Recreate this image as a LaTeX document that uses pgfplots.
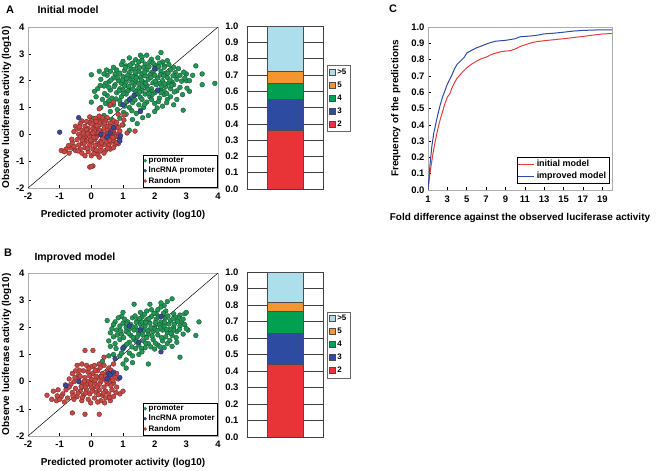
\documentclass[border=0pt]{standalone}
\usepackage{pgfplots}
\pgfplotsset{compat=1.18}
\usepackage{fontspec}
\setmainfont{Liberation Sans}
\definecolor{pgreen}{RGB}{35,150,85}
\definecolor{pgreenD}{RGB}{20,85,50}
\definecolor{pred}{RGB}{200,72,68}
\definecolor{predD}{RGB}{115,40,40}
\definecolor{pblue}{RGB}{60,72,150}
\definecolor{pblueD}{RGB}{35,40,95}
\definecolor{bA}{RGB}{232,52,55}
\definecolor{bB}{RGB}{45,75,160}
\definecolor{bC}{RGB}{0,160,80}
\definecolor{bD}{RGB}{245,150,45}
\definecolor{bE}{RGB}{172,222,235}
\definecolor{cred}{RGB}{228,60,60}
\definecolor{cblue}{RGB}{45,75,160}
\pgfplotsset{
 base/.style={scale only axis, /pgf/number format/assume math mode=true,
   tick label style={font=\bfseries\fontsize{9.5}{10}\selectfont},
   label style={font=\bfseries\fontsize{10}{11}\selectfont},
   axis line style={gray!65, line width=0.9bp},
   tick style={black, line width=0.5bp}, major tick length=2.5bp},
 scat/.style={base, width=190bp, xmin=-2,xmax=4,ymin=-2,ymax=4,
   xtick={-2,...,4}, ytick={-2,...,4}, xtick pos=bottom, ytick pos=left,
   xlabel={Predicted promoter activity (log10)},
   ylabel={Observe luciferase activity (log10)}, xlabel shift=4bp, ylabel shift=-2bp,
   xticklabel style={yshift=-1.5bp},
   legend style={at={(0.997,0.004)},anchor=south east,
     font=\bfseries\fontsize{8}{9}\selectfont, draw=black, line width=0.5bp,
     inner sep=0.5bp, row sep=-1bp, legend cell align=left}},
 gr/.style={only marks, mark=*, mark size=2.4bp, mark options={fill=pgreen, draw=pgreenD, line width=0.35bp}},
 rd/.style={only marks, mark=*, mark size=2.4bp, mark options={fill=pred, draw=predD, line width=0.35bp}},
 bl/.style={only marks, mark=*, mark size=2.4bp, mark options={fill=pblue, draw=pblueD, line width=0.35bp}},
 barax/.style={base, width=76bp, xmin=-1, xmax=1, ymin=0, ymax=1,
   ytick={0,0.1,0.2,0.3,0.4,0.5,0.6,0.7,0.8,0.9,1}, xtick=\empty,
   ybar stacked, bar width=36bp, ymajorgrids, grid style={black!75, line width=0.5bp},
   major tick length=0pt, axis line style={black!75, line width=0.5bp},
   yticklabel style={xshift=-5bp, /pgf/number format/.cd, fixed, fixed zerofill, precision=1},
   reverse legend,
   legend image code/.code={\draw[#1] (0bp,-2.6bp) rectangle (6bp,3.4bp);},
   legend style={at={(1.053,0.76)}, anchor=north west, draw=black!60, line width=0.5bp,
     font=\bfseries\fontsize{8}{9}\selectfont, row sep=2bp, inner sep=1.5bp, legend cell align=left}},
}
\begin{document}
\begin{tikzpicture}
\useasboundingbox (0,0) rectangle (657bp,471bp);
\node[font=\bfseries\fontsize{11}{12}\selectfont] at (10bp,461bp) {A};
\node[anchor=west,font=\bfseries\fontsize{10.5}{12}\selectfont] at (34bp,461bp) {Initial model};
\node[font=\bfseries\fontsize{11}{12}\selectfont] at (8bp,218bp) {B};
\node[anchor=west,font=\bfseries\fontsize{10.5}{12}\selectfont] at (31bp,213bp) {Improved model};
\node[font=\bfseries\fontsize{11}{12}\selectfont] at (393bp,462bp) {C};

% ---------------- Panel A scatter
\begin{axis}[scat, at={(28bp,283bp)}, anchor=south west, height=161bp]
\addplot[gr, forget plot] coordinates {
(1.2,2.85)(1.55,2.95)(1.6,2.88)(2.2,3.05)(2.1,2.85)(1.9,2.8)(1.4,2.78)(2.25,2.7)
(0.95,2.6)(1.1,2.55)(1.3,2.65)(1.5,2.7)(1.7,2.62)(1.85,2.7)(2.0,2.58)(2.15,2.65)(2.3,2.55)(2.45,2.6)(1.0,2.72)(1.65,2.5)(1.45,2.55)(2.6,2.5)(3.3,2.55)(0.7,2.5)(1.25,2.45)
(0.0,2.22)(0.5,2.2)(0.6,2.35)(0.8,2.4)(0.9,2.28)(1.05,2.38)(1.2,2.3)(1.35,2.42)(1.5,2.35)(1.6,2.25)(1.75,2.4)(1.9,2.3)(2.05,2.45)(2.2,2.35)(2.35,2.28)(2.5,2.4)(2.65,2.3)(2.8,2.2)(3.0,2.25)(3.2,2.2)(3.5,2.25)(2.3,2.5)(1.15,2.2)(0.75,2.25)(1.4,2.2)(1.85,2.22)(2.75,2.45)(0.4,2.25)
(0.3,2.05)(0.55,1.95)(0.7,2.1)(0.85,2.0)(1.0,2.15)(1.1,1.95)(1.25,2.05)(1.4,1.98)(1.55,2.12)(1.65,1.95)(1.8,2.05)(1.95,1.92)(2.1,2.1)(2.25,2.0)(2.4,2.12)(2.55,1.95)(2.7,2.05)(2.85,1.98)(3.0,2.0)(3.9,1.9)(3.5,1.85)(2.95,2.1)(0.45,1.9)(1.3,2.15)(1.7,2.18)(2.0,2.2)(2.15,1.9)(0.95,1.9)(1.5,1.9)(2.45,1.92)(2.65,2.18)
(0.2,1.7)(0.4,1.8)(0.6,1.65)(0.75,1.85)(0.9,1.7)(1.05,1.8)(1.2,1.68)(1.35,1.85)(1.5,1.72)(1.6,1.62)(1.75,1.8)(1.9,1.7)(2.05,1.85)(2.2,1.65)(2.35,1.78)(2.5,1.7)(2.6,1.85)(2.8,1.75)(3.1,1.6)(0.1,1.6)(1.15,1.62)(1.4,1.6)(1.85,1.6)(2.3,1.6)(0.55,1.75)(2.7,1.62)(1.0,1.65)
(0.15,1.4)(0.5,1.45)(0.65,1.35)(0.8,1.55)(0.95,1.4)(1.1,1.5)(1.25,1.35)(1.4,1.48)(1.55,1.38)(1.7,1.5)(1.85,1.4)(2.0,1.55)(2.15,1.35)(2.3,1.48)(2.5,1.4)(2.7,1.3)(2.2,1.55)(0.35,1.3)(1.6,1.3)(1.9,1.3)(2.4,1.3)
(0.0,1.2)(0.3,1.0)(0.45,1.15)(0.7,1.1)(0.9,1.25)(1.05,1.05)(1.3,1.18)(1.5,1.1)(1.75,1.2)(2.0,1.15)(2.25,1.05)(2.6,1.1)(1.2,1.0)(0.55,1.25)(1.65,1.0)
(0.4,0.7)(0.6,0.85)(0.9,0.6)(1.1,0.75)(1.3,0.55)(1.55,0.9)(1.8,0.7)(2.0,0.85)(2.9,0.9)(0.8,0.3)(1.0,0.35)(1.2,0.15)(0.65,0.55)(1.45,0.4)(0.05,0.6)
(0.82,2.12)(0.98,2.02)(1.12,2.08)(1.28,1.92)(1.42,2.1)(1.58,2.02)(1.72,1.9)(1.88,2.12)(2.02,1.98)(2.18,2.22)(2.32,1.88)(2.48,2.02)(0.88,1.62)(1.02,1.52)(1.18,1.78)(1.32,1.68)(1.48,1.52)(1.62,1.78)(1.78,1.68)(1.92,1.48)(2.08,1.62)(2.22,1.78)(2.38,1.52)(2.52,1.82)(0.72,1.78)(0.62,2.02)(1.08,2.48)(1.22,2.58)(1.38,2.32)(1.52,2.48)(1.68,2.32)(1.82,2.52)(1.98,2.38)(2.12,2.52)(2.28,2.18)(2.42,2.28)(2.58,2.18)(0.78,1.32)(0.92,1.12)(1.12,1.22)(1.38,1.28)(1.52,1.58)(1.68,1.12)(1.82,1.52)(2.12,1.22)(2.38,1.18)(0.42,1.52)(0.28,1.82)(0.58,1.08)(0.82,0.92)(1.02,0.82)(1.28,0.88)(1.42,0.78)(1.62,0.62)(2.08,0.98)(2.62,1.58)(2.88,1.48)(3.02,1.72)(2.92,2.32)(3.1,2.0)(0.48,2.4)(0.25,2.35)(1.95,2.65)(1.6,2.75)(1.75,2.95)(2.4,2.75)
};
\addplot[rd, forget plot] coordinates {
(-0.05,0.65)(0.15,0.6)(0.3,0.55)(0.5,0.62)(0.7,0.5)(0.45,0.5)(-0.3,0.5)(0.0,0.5)(0.25,0.68)
(-0.5,0.3)(-0.35,0.4)(-0.2,0.3)(-0.05,0.42)(0.1,0.35)(0.2,0.25)(0.35,0.38)(0.5,0.3)(0.6,0.42)(0.75,0.35)(0.85,0.25)(-0.1,0.22)(0.05,0.2)(0.4,0.2)(0.65,0.2)(-0.45,0.2)(0.25,0.45)(0.8,0.45)
(-0.55,0.1)(-0.4,0.0)(-0.3,0.15)(-0.2,-0.05)(-0.1,0.1)(0.0,0.0)(0.1,0.12)(0.2,-0.02)(0.3,0.1)(0.4,0.0)(0.5,0.15)(0.6,-0.05)(0.7,0.08)(0.8,0.0)(0.9,0.12)(-0.25,0.05)(0.15,-0.08)(0.35,-0.1)(0.55,0.05)(-0.05,-0.1)(0.25,0.15)(0.45,-0.05)(0.65,0.12)(-0.35,-0.1)(0.75,-0.08)(0.05,0.05)(-0.15,0.18)(0.85,-0.1)
(-0.6,-0.3)(-0.45,-0.2)(-0.3,-0.35)(-0.15,-0.25)(0.0,-0.3)(0.1,-0.2)(0.2,-0.35)(0.3,-0.25)(0.4,-0.38)(0.5,-0.2)(0.6,-0.3)(0.7,-0.22)(0.85,-0.35)(-0.05,-0.4)(0.15,-0.12)(0.35,-0.15)(-0.25,-0.15)(0.55,-0.4)(0.25,-0.4)(-0.4,-0.4)(0.75,-0.38)
(-0.8,-0.55)(-0.65,-0.5)(-0.5,-0.6)(-0.35,-0.55)(-0.2,-0.5)(-0.1,-0.65)(0.05,-0.55)(0.15,-0.6)(0.3,-0.5)(0.45,-0.6)(0.6,-0.55)(0.4,-0.7)(-0.3,-0.7)(0.2,-0.75)(-0.55,-0.45)(0.7,-0.5)
(-0.95,-0.6)(-0.85,-0.65)(-0.7,-0.7)(0.0,-0.8)(0.25,-0.85)(-0.2,-0.8)(-0.05,-1.22)(0.05,-1.18)(0.0,-1.2)
(0.7,1.2)(0.6,1.1)(0.85,0.75)(1.03,0.72)(1.03,0.53)(0.97,0.35)(1.13,0.05)(1.38,0.12)(0.25,0.95)
(-0.12,0.02)(0.08,-0.12)(0.22,0.05)(0.38,-0.02)(0.52,-0.12)(0.62,0.28)(0.18,0.32)(-0.22,-0.32)(-0.02,-0.22)(0.12,-0.42)(0.32,-0.32)(0.48,-0.28)(0.68,-0.12)(-0.38,0.28)(-0.28,-0.22)(0.02,0.38)(0.42,0.42)(0.58,-0.22)(-0.12,-0.52)(0.08,-0.72)(0.28,-0.62)(0.52,-0.52)(-0.42,-0.62)(-0.62,-0.18)(-0.72,-0.42)(0.35,0.62)(0.15,0.48)(-0.15,0.48)(0.72,0.2)(0.8,-0.3)
};
\addplot[bl, forget plot] coordinates {
(-1.0,0.08)(-0.4,0.62)(0.9,-0.15)(0.9,-0.25)(0.92,-0.05)(0.6,0.05)(0.3,0.0)(1.0,1.1)(1.35,1.45)(1.55,0.85)(2.0,2.45)(2.1,1.65)(1.2,1.3)(0.7,0.25)(0.5,-0.1)
};
\addplot[black, line width=0.5bp, forget plot] coordinates {(-2,-2)(4,4)};
\addlegendimage{only marks, mark=*, mark size=1.6bp, mark options={fill=pgreen, draw=pgreenD, line width=0.3bp}}
\addlegendentry{promoter}
\addlegendimage{only marks, mark=*, mark size=1.6bp, mark options={fill=pblue, draw=pblueD, line width=0.3bp}}
\addlegendentry{lncRNA promoter}
\addlegendimage{only marks, mark=*, mark size=1.6bp, mark options={fill=pred, draw=predD, line width=0.3bp}}
\addlegendentry{Random}
\end{axis}

% ---------------- Panel A bar
\begin{axis}[barax, at={(247bp,282bp)}, anchor=south west, height=163bp]
\addplot[fill=bA, draw=black!70] coordinates {(0,0.36)};
\addplot[fill=bB, draw=black!70] coordinates {(0,0.19)};
\addplot[fill=bC, draw=black!70] coordinates {(0,0.10)};
\addplot[fill=bD, draw=black!70] coordinates {(0,0.07)};
\addplot[fill=bE, draw=black!70] coordinates {(0,0.28)};
\legend{2,3,4,5,>5}
\node[rotate=-90, font=\bfseries\fontsize{9.5}{10}\selectfont] at (rel axis cs:1.64,0.55) {Fold difference};
\end{axis}

% ---------------- Panel B scatter
\begin{axis}[scat, at={(28bp,35bp)}, anchor=south west, height=163bp]
\addplot[gr, forget plot] coordinates {
(1.35,2.85)(1.85,2.85)(2.55,3.05)(2.4,2.95)(2.3,2.8)(2.2,2.75)(1.0,2.55)(1.75,2.6)(0.95,2.4)(2.1,2.65)(1.55,2.55)(2.05,2.5)(2.35,2.6)(2.6,2.5)(2.8,2.45)(2.95,2.5)(3.0,2.55)(2.75,2.35)
(0.5,2.25)(0.75,2.2)(0.85,2.35)(1.05,2.3)(1.15,2.2)(1.3,2.35)(1.45,2.25)(1.6,2.38)(1.75,2.28)(1.9,2.4)(2.05,2.3)(2.2,2.2)(2.35,2.35)(2.5,2.25)(2.65,2.38)(2.85,2.2)(3.4,2.2)(0.9,2.05)(1.1,2.0)(1.25,2.1)(1.4,2.0)(1.55,2.12)(1.7,2.05)(1.85,2.15)(2.0,2.02)(2.15,2.1)(2.3,2.05)(2.45,2.12)(2.6,2.0)(2.8,2.05)(2.95,2.1)(0.7,2.1)(1.6,2.2)(2.25,2.42)(1.0,2.15)
(0.6,1.8)(0.8,1.9)(0.95,1.75)(1.1,1.85)(1.25,1.7)(1.35,1.9)(1.5,1.78)(1.65,1.88)(1.8,1.75)(1.95,1.85)(2.1,1.72)(2.25,1.9)(2.4,1.8)(2.55,1.7)(2.7,1.85)(2.9,1.75)(3.05,1.9)(1.2,1.95)(1.45,1.65)(1.75,1.62)(2.0,1.95)(2.35,1.65)(0.7,1.65)(2.6,1.9)(3.3,1.7)
(0.55,1.5)(0.75,1.4)(0.9,1.55)(1.05,1.3)(1.2,1.45)(1.35,1.55)(1.5,1.35)(1.65,1.5)(1.8,1.4)(1.95,1.55)(2.1,1.35)(2.25,1.5)(2.4,1.4)(2.55,1.3)(1.0,1.2)(1.4,1.22)(1.7,1.25)(2.0,1.2)(2.3,1.25)(0.6,1.3)(2.7,1.45)
(0.7,1.0)(0.9,0.95)(1.2,1.05)(1.5,1.0)(1.1,0.8)(1.3,0.7)(1.8,0.65)(0.55,0.95)(2.8,0.9)(0.6,0.4)(1.1,0.5)(1.0,0.65)(0.35,0.75)
(1.12,2.12)(1.28,2.02)(1.42,2.18)(1.58,1.98)(1.72,2.18)(1.88,1.98)(2.02,2.18)(2.18,1.98)(2.32,2.18)(2.48,1.92)(2.62,2.12)(2.78,1.92)(1.02,1.62)(1.18,1.78)(1.32,1.62)(1.48,1.88)(1.62,1.72)(1.78,1.88)(1.92,1.68)(2.08,1.88)(2.22,1.62)(2.38,1.92)(2.52,1.78)(2.68,1.62)(1.38,2.42)(1.52,2.32)(1.68,2.48)(1.82,2.32)(1.98,2.52)(2.12,2.38)(2.28,2.52)(2.42,2.42)(2.58,2.32)(2.72,2.22)(0.82,1.72)(0.92,1.88)(1.12,1.38)(1.28,1.28)(1.42,1.48)(1.58,1.22)(1.72,1.42)(1.88,1.28)(2.02,1.42)(2.18,1.28)(2.48,1.52)(0.78,1.22)(0.95,1.05)(1.3,0.95)(1.6,1.1)(2.9,2.3)(3.0,1.95)(2.2,2.9)(1.9,2.65)(0.65,1.95)
};
\addplot[rd, forget plot] coordinates {
(-0.5,0.4)(-0.45,0.6)(-0.3,0.65)(-0.15,0.6)(0.0,0.55)(0.1,0.6)(0.25,0.65)(0.4,0.6)(0.55,0.5)(-0.6,0.3)(-0.4,0.25)(-0.25,0.4)(-0.1,0.35)(0.05,0.3)(0.2,0.4)(0.35,0.3)(0.5,0.35)(0.65,0.25)(0.8,0.3)(-0.2,1.15)(0.05,1.15)(0.4,0.9)(0.7,0.65)
(-0.7,0.1)(-0.55,0.0)(-0.4,0.12)(-0.3,-0.05)(-0.2,0.15)(-0.1,0.0)(0.0,0.1)(0.1,-0.05)(0.2,0.15)(0.3,0.0)(0.4,0.1)(0.5,-0.08)(0.6,0.05)(0.7,-0.05)(0.85,0.1)(-0.35,0.2)(0.15,0.2)(-0.05,0.22)(0.45,0.2)(-0.65,-0.1)(0.25,-0.1)(0.55,0.15)(-0.15,-0.12)(0.75,0.15)
(-1.4,-0.5)(-1.25,-0.65)(-1.1,-0.7)(-1.05,-0.3)(-0.9,-0.45)(-0.8,-0.3)(-0.75,-0.6)(-0.6,-0.4)(-0.5,-0.25)(-0.45,-0.55)(-0.35,-0.35)(-0.25,-0.5)(-0.15,-0.3)(-0.05,-0.45)(0.05,-0.25)(0.15,-0.4)(0.25,-0.3)(0.35,-0.5)(0.45,-0.35)(0.55,-0.45)(0.65,-0.3)(0.7,-0.55)(-0.55,-0.65)(-0.3,-0.7)(-0.1,-0.65)(0.1,-0.6)(0.3,-0.7)(0.45,-0.6)(0.6,-0.7)(-0.95,-0.55)(-0.7,-0.2)(0.0,-0.2)(0.2,-0.75)(-0.2,-0.2)(0.4,-0.2)(0.8,-0.2)(-1.2,-0.35)(-0.85,-0.75)
(-0.6,-1.15)(-0.2,-1.2)(0.25,-1.2)(-1.0,-0.65)(0.9,-0.45)(1.0,-0.35)
(-0.22,0.02)(-0.02,-0.08)(0.12,0.05)(0.32,0.18)(0.48,0.02)(0.62,-0.15)(0.18,-0.2)(-0.32,-0.18)(-0.42,-0.42)(-0.18,-0.42)(0.02,-0.35)(0.22,-0.48)(0.38,-0.42)(0.58,-0.58)(-0.58,-0.52)(-0.82,-0.12)(-0.38,0.42)(-0.08,0.48)(0.12,0.42)(0.28,0.52)(0.62,0.42)(-0.28,-0.58)(-0.02,-0.78)(0.42,-0.78)(-1.08,-0.52)(0.78,-0.4)(0.68,0.05)(-0.52,0.15)
};
\addplot[bl, forget plot] coordinates {
(-0.8,-0.15)(0.55,0.3)(0.6,0.25)(0.7,0.35)(0.9,0.15)(0.75,0.85)(1.2,2.05)(1.55,1.9)(1.5,1.45)(2.2,2.4)(2.2,1.1)(0.5,0.1)(-0.4,0.0)(1.0,1.25)
};
\addplot[black, line width=0.5bp, forget plot] coordinates {(-2,-2)(4,4)};
\addlegendimage{only marks, mark=*, mark size=1.6bp, mark options={fill=pgreen, draw=pgreenD, line width=0.3bp}}
\addlegendentry{promoter}
\addlegendimage{only marks, mark=*, mark size=1.6bp, mark options={fill=pblue, draw=pblueD, line width=0.3bp}}
\addlegendentry{lncRNA promoter}
\addlegendimage{only marks, mark=*, mark size=1.6bp, mark options={fill=pred, draw=predD, line width=0.3bp}}
\addlegendentry{Random}
\end{axis}

% ---------------- Panel B bar
\begin{axis}[barax, at={(247bp,34bp)}, anchor=south west, height=165bp]
\addplot[fill=bA, draw=black!70] coordinates {(0,0.44)};
\addplot[fill=bB, draw=black!70] coordinates {(0,0.19)};
\addplot[fill=bC, draw=black!70] coordinates {(0,0.13)};
\addplot[fill=bD, draw=black!70] coordinates {(0,0.06)};
\addplot[fill=bE, draw=black!70] coordinates {(0,0.18)};
\legend{2,3,4,5,>5}
\node[rotate=-90, font=\bfseries\fontsize{9.5}{10}\selectfont] at (rel axis cs:1.64,0.56) {Fold difference};
\end{axis}

% ---------------- Panel C
\begin{axis}[base, at={(428bp,281bp)}, anchor=south west, width=184bp, height=163bp,
  xmin=1, xmax=20, ymin=0, ymax=1, xtick={1,3,...,19},
  ytick={0,0.1,0.2,0.3,0.4,0.5,0.6,0.7,0.8,0.9,1},
  yticklabel style={/pgf/number format/.cd, fixed, fixed zerofill, precision=1},
  xticklabel style={yshift=-2bp},
  xtick pos=bottom, ytick pos=left, xlabel shift=4bp, ylabel shift=4bp,
  xlabel={Fold difference against the observed luciferase activity},
  ylabel={Frequency of the predictions},
  legend style={at={(0.985,0.04)}, anchor=south east, draw=black, line width=0.5bp,
    font=\bfseries\fontsize{9}{10}\selectfont, legend cell align=left, inner sep=1bp, row sep=0bp},
  legend image code/.code={\draw[#1] (0bp,0bp) -- (16bp,0bp);}]
\addplot[cred, line width=1bp] coordinates {
(1,0)(1.2,0.1)(1.5,0.22)(1.75,0.3)(2,0.37)(2.25,0.43)(2.5,0.48)(2.75,0.53)(3,0.57)(3.25,0.59)(3.5,0.63)(3.75,0.66)(4,0.685)(4.5,0.72)(5,0.75)(5.5,0.772)(6,0.79)(6.5,0.805)(7,0.815)(7.5,0.83)(8,0.84)(8.5,0.848)(9,0.852)(9.5,0.855)(10,0.865)(10.5,0.88)(11,0.89)(11.5,0.9)(12,0.908)(12.5,0.912)(13,0.916)(14,0.922)(15,0.928)(16,0.935)(17,0.942)(18,0.95)(19,0.957)(20,0.96)};
\addlegendentry{initial model}
\addplot[cblue, line width=1bp] coordinates {
(1,0)(1.2,0.15)(1.4,0.27)(1.6,0.35)(2,0.46)(2.25,0.52)(2.5,0.57)(2.75,0.61)(3,0.65)(3.25,0.68)(3.5,0.71)(3.75,0.745)(4,0.77)(4.25,0.785)(4.5,0.8)(4.75,0.815)(5,0.84)(5.5,0.857)(6,0.872)(6.5,0.883)(7,0.895)(7.5,0.905)(8,0.913)(9,0.918)(10,0.928)(10.5,0.94)(11,0.942)(12,0.947)(12.5,0.952)(13,0.958)(14,0.962)(15,0.968)(16,0.975)(17,0.979)(18,0.981)(19,0.983)(20,0.983)};
\addlegendentry{improved model}
\end{axis}
\end{tikzpicture}
\end{document}
